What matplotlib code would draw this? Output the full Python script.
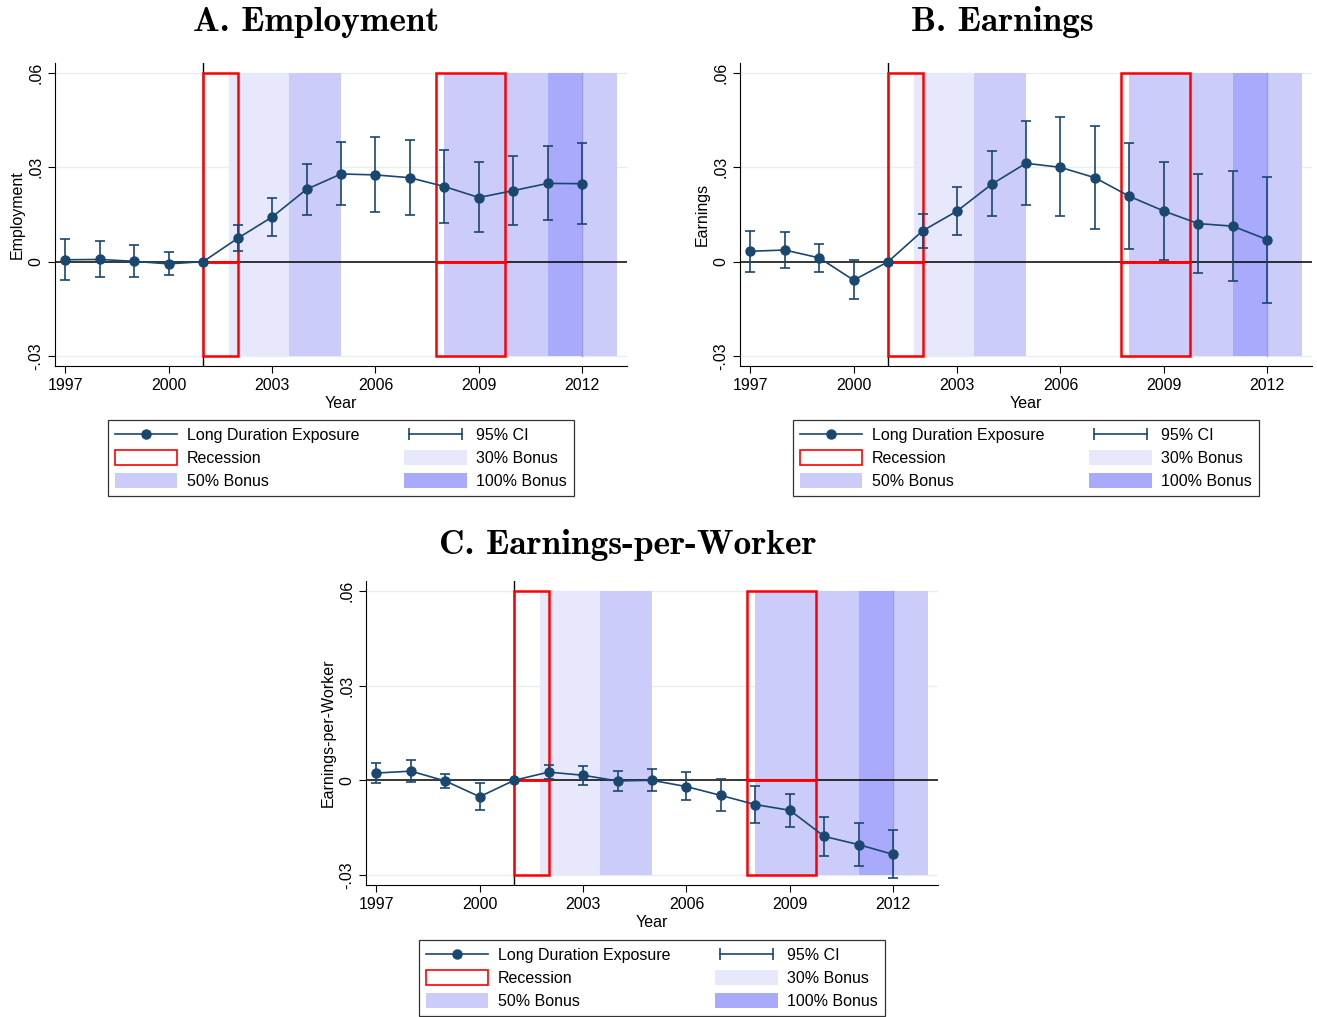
import numpy as np
import matplotlib.pyplot as plt
from matplotlib.lines import Line2D
from matplotlib.patches import Patch, Rectangle
from matplotlib.legend_handler import HandlerLine2D

plt.rcParams['font.family'] = ['Liberation Sans', 'DejaVu Sans']

years = np.arange(1997, 2013)

# Panel A: employment
emp = [0.0006, 0.0007, 0.0001, -0.0007, 0.0, 0.0074, 0.0142, 0.0230,
       0.0279, 0.0276, 0.0267, 0.0239, 0.0204, 0.0226, 0.0249, 0.0248]
emp_hi = [0.0072, 0.0065, 0.0052, 0.0030, 0.0, 0.0116, 0.0204, 0.0310,
          0.0382, 0.0395, 0.0386, 0.0355, 0.0317, 0.0336, 0.0369, 0.0378]
emp_lo = [-0.0059, -0.0050, -0.0048, -0.0042, 0.0, 0.0035, 0.0081, 0.0150,
          0.0179, 0.0158, 0.0149, 0.0124, 0.0093, 0.0117, 0.0131, 0.0119]

# Panel B: earnings
earn = [0.0033, 0.0037, 0.0012, -0.0059, 0.0, 0.0098, 0.0161, 0.0246,
        0.0313, 0.0300, 0.0267, 0.0208, 0.0161, 0.0121, 0.0113, 0.0070]
earn_hi = [0.0096, 0.0094, 0.0057, 0.0004, 0.0, 0.0153, 0.0239, 0.0351,
           0.0446, 0.0460, 0.0430, 0.0377, 0.0317, 0.0280, 0.0288, 0.0270]
earn_lo = [-0.0033, -0.0019, -0.0034, -0.0120, 0.0, 0.0045, 0.0085, 0.0144,
           0.0181, 0.0144, 0.0105, 0.0040, 0.0004, -0.0037, -0.0060, -0.0130]

# Panel C: earnings per worker
epw = [0.0023, 0.0029, -0.0002, -0.0052, 0.0, 0.0026, 0.0016, -0.0002,
       0.0000, -0.0020, -0.0048, -0.0077, -0.0095, -0.0178, -0.0204, -0.0235]
epw_hi = [0.0056, 0.0063, 0.0021, -0.0010, 0.0, 0.0048, 0.0046, 0.0031,
          0.0036, 0.0026, 0.0003, -0.0017, -0.0042, -0.0117, -0.0136, -0.0158]
epw_lo = [-0.0009, -0.0005, -0.0025, -0.0094, 0.0, 0.0003, -0.0014, -0.0034,
          -0.0034, -0.0064, -0.0098, -0.0135, -0.0147, -0.0239, -0.0271, -0.0310]

# shaded periods (start, end)
recessions = [(2001.0, 2002.0), (2007.77, 2009.75)]
bonus30 = [(2001.75, 2003.5)]
bonus50 = [(2003.5, 2005.0), (2008.0, 2011.0), (2012.0, 2013.0)]
bonus100 = [(2011.0, 2012.0)]

navy = '#1a476f'
c30, c50, c100 = '#e8e8fc', '#ccccfa', '#aaaafc'
ymin, ymax = -0.03, 0.06

W, H = 1317, 1017
fig = plt.figure(figsize=(W / 100, H / 100), dpi=100)


def px_axes(l, r, t, b):
    return fig.add_axes([l / W, 1 - b / H, (r - l) / W, (b - t) / H])


def band(ax, spans, color):
    for a, b in spans:
        ax.add_patch(Rectangle((a, ymin), b - a, ymax - ymin, color=color, lw=0, zorder=1))


def panel(ax, y, lo, hi, ylabel):
    band(ax, bonus30, c30)
    band(ax, bonus50, c50)
    band(ax, bonus100, c100)
    for a, b in bonus100:
        ax.plot([b, b], [ymin, ymax], color='#9a9af5', lw=1, zorder=1)
    for g in [-0.03, 0.03, 0.06]:
        ax.axhline(g, color='#e6eef0', lw=1, zorder=0.5)
    ax.axhline(0, color='black', lw=1.1, zorder=2)
    ax.axvline(2001, color='black', lw=1.0, zorder=2)
    for a, b in recessions:
        for y0, y1 in [(0, ymax), (ymin, 0)]:
            ax.add_patch(Rectangle((a, y0), b - a, y1 - y0, fill=False,
                                   edgecolor='#ff0000', lw=1.8, zorder=3))
    y = np.array(y)
    ax.errorbar(years, y, yerr=[y - np.array(lo), np.array(hi) - y], fmt='none',
                ecolor=navy, elinewidth=1.2, capsize=3.5, capthick=1.2, zorder=4)
    ax.plot(years, y, color=navy, lw=1.2, marker='o', ms=6.5, zorder=5)
    ax.set_xlim(1996.7, 2013.3)
    ax.set_ylim(-0.0332, 0.0632)
    ax.set_xticks([1997, 2000, 2003, 2006, 2009, 2012])
    ax.set_yticks([-0.03, 0, 0.03, 0.06])
    ax.set_yticklabels(['-.03', '0', '.03', '.06'], rotation=90, va='center')
    for s in ['top', 'right']:
        ax.spines[s].set_visible(False)
    ax.spines['left'].set_linewidth(0.8)
    ax.spines['bottom'].set_linewidth(0.8)
    ax.tick_params(labelsize=11.5, length=5, width=0.8)
    ax.set_xlabel('Year', fontsize=11.5, labelpad=2)
    ax.set_ylabel(ylabel, fontsize=11.5, labelpad=2.5)


def add_legend(cx, top):
    h_line = Line2D([], [], color=navy, lw=1.2, marker='o', ms=6.5)
    h_ci = Line2D([0, 1], [0, 0], color=navy, lw=1.2, marker='|', ms=8, mew=1.2)
    h_rec = Patch(facecolor='white', edgecolor='#ff0000', lw=1.2)
    h30 = Patch(facecolor=c30, lw=0)
    h50 = Patch(facecolor=c50, lw=0)
    h100 = Patch(facecolor=c100, lw=0)
    handles = [h_line, h_rec, h50, h_ci, h30, h100]
    labels = ['Long Duration Exposure', 'Recession', '50% Bonus',
              '95% CI', '30% Bonus', '100% Bonus']
    leg = fig.legend(handles, labels, ncol=2, loc='upper center',
                     bbox_to_anchor=(cx / W, 1 - top / H), fontsize=11.5,
                     frameon=True, fancybox=False, edgecolor='black',
                     handlelength=3.9, handleheight=1.05, labelspacing=0.45,
                     columnspacing=2.8, borderpad=0.45, handletextpad=0.6,
                     borderaxespad=0,
                     handler_map={h_ci: HandlerLine2D(numpoints=2)})
    leg.get_frame().set_linewidth(0.9)


axA = px_axes(55, 627, 63, 366)
panel(axA, emp, emp_lo, emp_hi, 'Employment')
axB = px_axes(740, 1312, 63, 366)
panel(axB, earn, earn_lo, earn_hi, 'Earnings')
axC = px_axes(366, 938, 581, 885)
panel(axC, epw, epw_lo, epw_hi, 'Earnings-per-Worker')

tfont = dict(fontsize=25.5, fontfamily='cmb10', ha='center', va='center')
fig.text(316 / W, 1 - 22 / H, 'A. Employment', **tfont)
fig.text(1002 / W, 1 - 22 / H, 'B. Earnings', **tfont)
fig.text(628 / W, 1 - 545 / H, 'C. Earnings-per-Worker', **tfont)

add_legend(341, 420)
add_legend(1026, 420)
add_legend(652, 940)

fig.savefig('out.png', dpi=100)
